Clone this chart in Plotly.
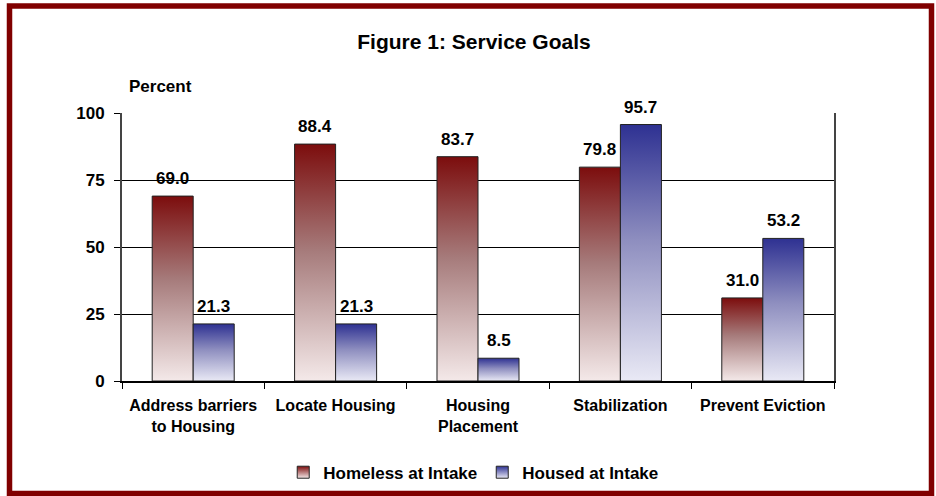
import plotly.graph_objects as go

categories = ["Address barriers<br>to Housing", "Locate Housing", "Housing<br>Placement",
              "Stabilization", "Prevent Eviction"]
series_names = ["Homeless at Intake", "Housed at Intake"]
homeless = [69.0, 88.4, 83.7, 79.8, 31.0]
housed = [21.3, 21.3, 8.5, 95.7, 53.2]
y_ticks = [0, 25, 50, 75, 100]

FONT = "Liberation Sans, Arial, sans-serif"
BAR_W = 0.288
series = [
    (series_names[0], homeless, -1, "#f4e9e9", "#a67b7b", "#7c0d0d"),
    (series_names[1], housed, 0, "#e9e9f5", "#8e8ebf", "#2e3192"),
]

fig = go.Figure()
annotations = []
for name, vals, side, light, mid, dark in series:
    for i, v in enumerate(vals):
        x0 = i + side * BAR_W
        x1 = x0 + BAR_W
        fig.add_trace(go.Scatter(
            x=[x0, x0, x1, x1, x0], y=[0, v, v, 0, 0],
            mode="lines", fill="toself",
            fillgradient=dict(type="vertical",
                              colorscale=[[0, light], [0.55, mid], [1, dark]]),
            line=dict(color="#222222", width=1),
            showlegend=False, hoverinfo="skip"))
        annotations.append(dict(x=(x0 + x1) / 2, y=v, xref="x", yref="y",
                                text=f"<b>{v:.1f}</b>", showarrow=False, yanchor="bottom",
                                yshift=6, font=dict(family=FONT, size=17, color="black")))
    # legend entry
    fig.add_trace(go.Scatter(
        x=[None], y=[None], mode="markers", name=f"<b>{name}</b>",
        marker=dict(symbol="square", size=12, color=dark,
                    gradient=dict(type="vertical", color=light),
                    line=dict(color="#222222", width=1))))

annotations.append(dict(x=0.007, y=1.098, xref="paper", yref="paper", text="<b>Percent</b>",
                        showarrow=False, xanchor="left", yanchor="middle",
                        font=dict(family=FONT, size=17, color="black")))

fig.update_layout(
    width=936, height=496,
    margin=dict(l=122, r=102, t=113, b=115, autoexpand=False),
    paper_bgcolor="white", plot_bgcolor="white",
    font=dict(family=FONT, color="black"),
    title=dict(text="<b>Figure 1: Service Goals</b>", x=474 / 936, xref="container", xanchor="center",
               y=1 - 42 / 496, yref="container", yanchor="middle",
               font=dict(family=FONT, size=21, color="black")),
    showlegend=True,
    legend=dict(orientation="h", x=0.494, xanchor="center", y=-0.342, yanchor="middle",
                font=dict(family=FONT, size=17, color="black"), itemwidth=30,
                bgcolor="rgba(0,0,0,0)"),
    annotations=annotations,
    shapes=[dict(type="rect", xref="paper", yref="paper",
                 x0=(9.5 - 122) / 712, x1=(931.5 - 122) / 712,
                 y0=(381 - 493.5) / 268, y1=(381 - 6) / 268,
                 line=dict(color="#800000", width=5.5), layer="below")],
)

fig.update_xaxes(
    range=[-0.5, 4.5], tickmode="array", tickvals=list(range(len(categories))),
    ticktext=[f"<b>{c}</b>" for c in categories], ticks="", showgrid=False, zeroline=False,
    showline=True, linecolor="black", linewidth=2, automargin=False,
    tickfont=dict(family=FONT, size=16, color="black"), ticklabelstandoff=9,
    minor=dict(tickmode="array", tickvals=[i - 0.5 for i in range(len(categories) + 1)],
               ticks="outside", ticklen=6, tickcolor="black", tickwidth=1, showgrid=False),
    fixedrange=True,
)
fig.update_yaxes(
    range=[0, 100], tickmode="array", tickvals=y_ticks,
    ticktext=[f"<b>{t}</b>" for t in y_ticks],
    ticks="outside", ticklen=6, tickcolor="black", tickwidth=1,
    showgrid=True, gridcolor="black", gridwidth=1, zeroline=False,
    showline=True, linecolor="#444444", linewidth=2, mirror=True, automargin=False,
    tickfont=dict(family=FONT, size=17, color="black"), ticklabelstandoff=6,
    fixedrange=True,
)

fig.write_html("out.html")
